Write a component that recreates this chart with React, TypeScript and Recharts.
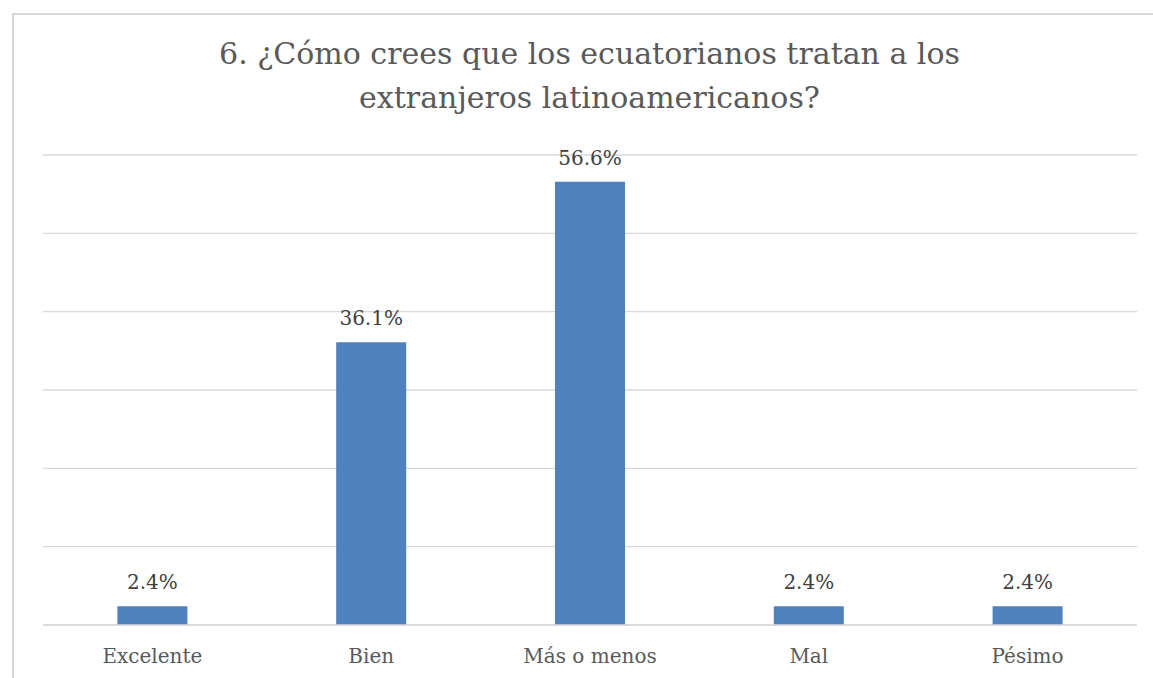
import React from "react";
import { BarChart, Bar, XAxis, YAxis, CartesianGrid, LabelList } from "recharts";

const categories = ["Excelente", "Bien", "Más o menos", "Mal", "Pésimo"];
const values = [2.4, 36.1, 56.6, 2.4, 2.4];
const yTicks = [0, 10, 20, 30, 40, 50, 60];
const titleLines = [
  "6. ¿Cómo crees que los ecuatorianos tratan a los",
  "extranjeros latinoamericanos?",
];

const data = categories.map((c, i) => ({ name: c, value: values[i] }));

const FONT = "'DejaVu Serif', 'Liberation Serif', serif";

const Tick = (props: any) => {
  const { x, y, payload } = props;
  return (
    <text x={x} y={y} dy={38} textAnchor="middle" fill="#595959" fontSize={20} fontFamily={FONT}>
      {payload.value}
    </text>
  );
};

const ValueLabel = (props: any) => {
  const { x, y, width, value } = props;
  return (
    <text x={x + width / 2} y={y - 17} textAnchor="middle" fill="#404040" fontSize={20} fontFamily={FONT}>
      {`${Number(value).toFixed(1)}%`}
    </text>
  );
};

export default function App() {
  return (
    <div style={{ position: "absolute", left: 0, top: 0, width: 1153, height: 678, overflow: "hidden", background: "#fff" }}>
      <div
        style={{
          position: "absolute",
          left: 12,
          top: 13,
          width: 1160,
          height: 700,
          border: "2px solid #d9d9d9",
          boxSizing: "border-box",
        }}
      />
      {titleLines.map((t, i) => (
        <div
          key={i}
          style={{
            position: "absolute",
            left: 0,
            width: 1179,
            top: 36 + i * 44,
            textAlign: "center",
            fontFamily: FONT,
            fontSize: 30,
            lineHeight: "36px",
            color: "#595959",
            whiteSpace: "nowrap",
          }}
        >
          {t}
        </div>
      ))}
      <div style={{ position: "absolute", left: 0, top: 0 }}>
        <BarChart
          width={1153}
          height={678}
          data={data}
          margin={{ top: 155, right: 16, bottom: 0, left: 43 }}
          barCategoryGap="34%"
        >
          <CartesianGrid vertical={false} stroke="#d9d9d9" strokeWidth={1.3} />
          <XAxis
            dataKey="name"
            height={53}
            axisLine={{ stroke: "#d9d9d9", strokeWidth: 1.3 }}
            tickLine={false}
            tickSize={0}
            tickMargin={0}
            tick={<Tick />}
            interval={0}
          />
          <YAxis hide domain={[0, 60]} ticks={yTicks} />
          <Bar dataKey="value" fill="#4F81BD" isAnimationActive={false}>
            <LabelList dataKey="value" content={<ValueLabel />} />
          </Bar>
        </BarChart>
      </div>
    </div>
  );
}
